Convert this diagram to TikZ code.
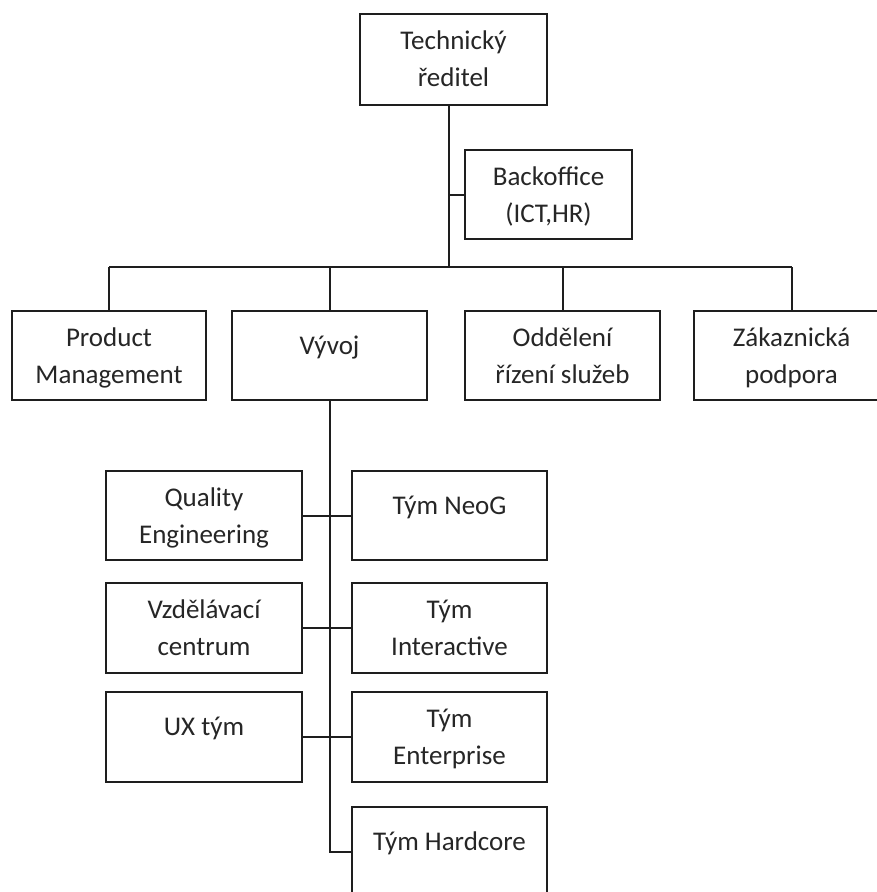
\documentclass[tikz,border=0pt]{standalone}
\usepackage{fontspec}
\setmainfont{Carlito}
\definecolor{linec}{HTML}{1E1E1E}
\definecolor{textc}{HTML}{262626}
\begin{document}
\begin{tikzpicture}[x=1pt,y=-1pt,
  box/.style={draw=linec, line width=2pt, inner sep=0pt, minimum width=195pt, minimum height=89pt},
  txt/.style={anchor=north, yshift=-18pt, align=center, inner sep=0pt, text=textc,
    font=\fontsize{27}{37}\selectfont, execute at begin node=\strut},
  conn/.style={draw=linec, line width=2pt}]
\useasboundingbox[fill=white] (0,0) rectangle (877,892);

\node[box, minimum width=187pt, minimum height=91pt, label={[txt]north:Technický\\ředitel}] (tech) at (453.5,59.5) {};
\node[box, minimum width=167pt, label={[txt]north:Backoffice\\(ICT,HR)}] (back) at (548.5,194.5) {};

\node[box, minimum width=194pt, label={[txt]north:Product\\Management}] (pm) at (109,355.5) {};
\node[box, label={[txt]north:Vývoj}] (vyv) at (329.5,355.5) {};
\node[box, label={[txt]north:Oddělení\\řízení služeb}] (odd) at (562.5,355.5) {};
\node[box, label={[txt]north:Zákaznická\\podpora}] (zak) at (791.5,355.5) {};

\node[box, minimum width=196pt, label={[txt]north:Quality\\Engineering}] (qe) at (204,515.5) {};
\node[box, label={[txt]north:Tým NeoG}] (neog) at (449.5,515.5) {};
\node[box, minimum width=196pt, minimum height=90pt, label={[txt]north:Vzdělávací\\centrum}] (vzd) at (204,628) {};
\node[box, minimum height=90pt, label={[txt]north:Tým\\Interactive}] (inter) at (449.5,628) {};
\node[box, minimum width=196pt, minimum height=90pt, label={[txt]north:UX tým}] (ux) at (204,737) {};
\node[box, minimum height=90pt, label={[txt]north:Tým\\Enterprise}] (ent) at (449.5,737) {};
\node[box, label={[txt]north:Tým Hardcore}] (hard) at (449.5,851.5) {};

\coordinate (bus) at (449,267);
\draw[conn] (tech.south -| bus) -- (bus);
\draw[conn] (back.west) -- (back.west -| bus);
\draw[conn] (pm.north |- bus) -- (zak.north |- bus);
\draw[conn] (pm.north) -- (pm.north |- bus);
\draw[conn] (vyv.north) -- (vyv.north |- bus);
\draw[conn] (odd.north) -- (odd.north |- bus);
\draw[conn] (zak.north) -- (zak.north |- bus);

\draw[conn] (vyv.south) -- (vyv.south |- hard.west) -- (hard.west);
\draw[conn] (qe.east) -- (neog.west);
\draw[conn] (vzd.east) -- (inter.west);
\draw[conn] (ux.east) -- (ent.west);
\end{tikzpicture}
\end{document}
